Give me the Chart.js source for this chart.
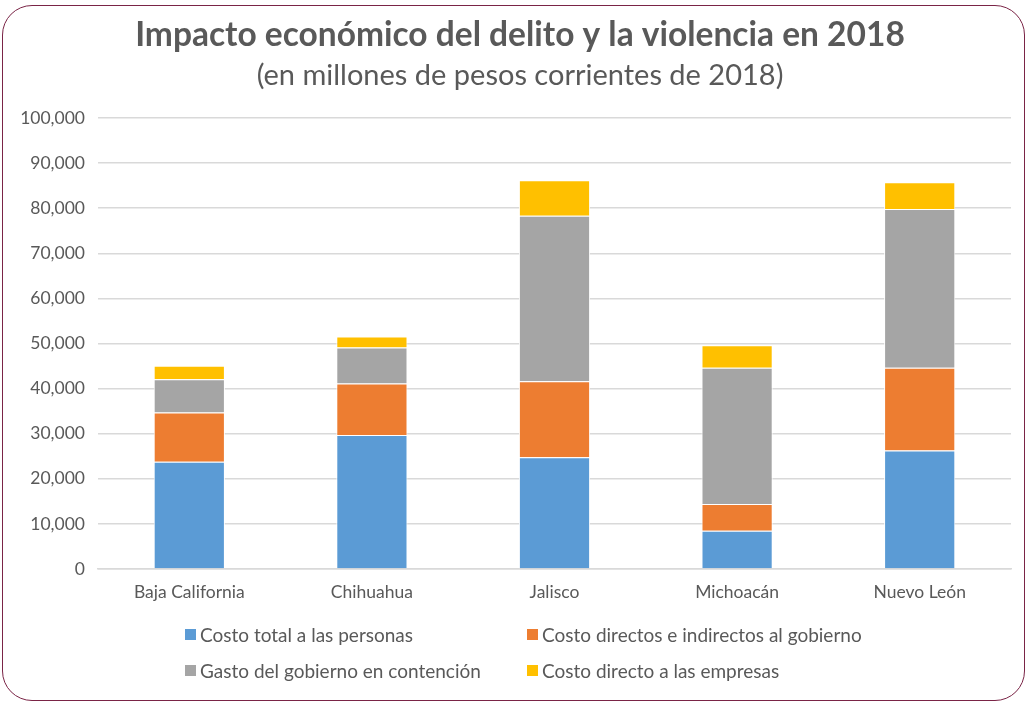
<!DOCTYPE html>
<html>
<head>
<meta charset="utf-8">
<script src="https://cdn.jsdelivr.net/npm/chart.js@4"></script>
<style>
  body { margin: 0; background: #fff; }
  .wrap { position: relative; width: 1029px; height: 705px; font-family: Lato, sans-serif; }
  .frame {
    position: absolute; left: 2px; top: 5px; width: 1021px; height: 694px;
    border: 1.5px solid #7a2446; border-radius: 30px;
  }
  canvas { position: absolute; left: 0; top: 0; }
  .legend {
    position: absolute; left: 185px; top: 623px;
    display: grid; grid-template-columns: 342px 360px; row-gap: 13px;
    color: #595959; font-size: 19px;
  }
  .legend span { display: flex; align-items: center; white-space: nowrap; line-height: 23px; }
  .legend i { display: inline-block; width: 11px; height: 11px; margin-right: 4px; }
</style>
</head>
<body>
<div class="wrap">
  <div class="frame"></div>
  <canvas class="js-chart" width="1029" height="705"></canvas>
  <div class="legend js-legend"></div>
</div>
<script>
const categories = ['Baja California', 'Chihuahua', 'Jalisco', 'Michoacán', 'Nuevo León'];
const costoPersonas = [23800, 29700, 24800, 8500, 26300];
const costoGobierno = [10900, 11450, 16850, 5900, 18300];
const gastoContencion = [7400, 7950, 36700, 30200, 35200];
const costoEmpresas = [2950, 2450, 7850, 5000, 5950];

const TEXT = '#595959';
const context = document.querySelector('.js-chart').getContext('2d');

function dataset(label, data, color) {
  return {
    label,
    data,
    backgroundColor: color,
    borderColor: '#ffffff',
    borderWidth: 1,
    barPercentage: 0.39,
    categoryPercentage: 1,
  };
}

const chart = new Chart(context, {
  type: 'bar',
  data: {
    labels: categories,
    datasets: [
      dataset('Costo total a las personas', costoPersonas, '#5b9bd5'),
      dataset('Costo directos e indirectos al gobierno', costoGobierno, '#ed7d31'),
      dataset('Gasto del gobierno en contención', gastoContencion, '#a5a5a5'),
      dataset('Costo directo a las empresas', costoEmpresas, '#ffc000'),
    ],
  },
  options: {
    responsive: false,
    animation: false,
    layout: { padding: { left: 20, right: 9, top: 0, bottom: 97 } },
    plugins: {
      legend: { display: false },
      tooltip: { enabled: false },
      title: {
        display: true,
        text: 'Impacto económico del delito y la violencia en 2018',
        color: TEXT,
        font: { family: 'Lato', size: 33.5, weight: 'bold' },
        padding: { top: 15, bottom: 3 },
      },
      subtitle: {
        display: true,
        text: '(en millones de pesos corrientes de 2018)',
        color: TEXT,
        font: { family: 'Lato', size: 29 },
        padding: { top: 0, bottom: 25 },
      },
    },
    scales: {
      x: {
        stacked: true,
        grid: { display: false },
        border: { color: '#d9d9d9', width: 1.5 },
        ticks: { color: TEXT, font: { family: 'Lato', size: 17.5 }, padding: 5 },
      },
      y: {
        stacked: true,
        min: 0,
        max: 100000,
        afterFit(scale) {
          scale.width = 78;
        },
        grid: { color: '#d9d9d9', lineWidth: 1.5, drawTicks: false },
        border: { display: false },
        ticks: {
          stepSize: 10000,
          padding: 13,
          color: TEXT,
          font: { family: 'Lato', size: 17.5 },
          callback(value) {
            return value.toLocaleString('en-US');
          },
        },
      },
      // empty right margin so the title centres like the original
      yRight: {
        position: 'right',
        grid: { display: false },
        border: { display: false },
        ticks: { display: false },
        afterFit(scale) {
          scale.width = 9;
        },
      },
    },
  },
});

const legend = document.querySelector('.js-legend');
chart.data.datasets.forEach(ds => {
  const item = document.createElement('span');
  item.innerHTML = `<i style="background:${ds.backgroundColor}"></i>${ds.label}`;
  legend.appendChild(item);
});
</script>
</body>
</html>
